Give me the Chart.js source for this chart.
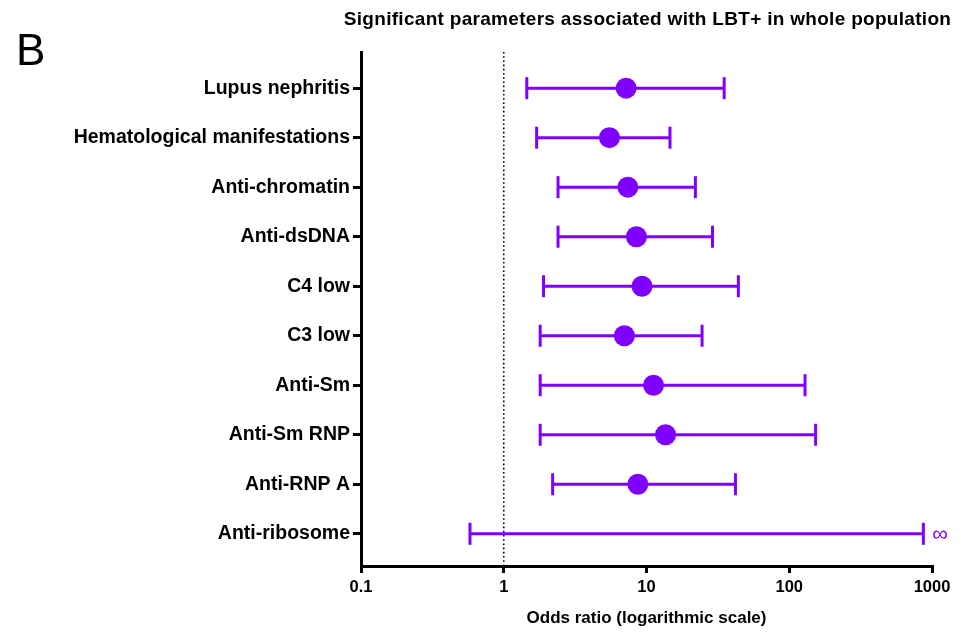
<!DOCTYPE html>
<html>
<head>
<meta charset="utf-8">
<script src="https://cdn.jsdelivr.net/npm/chart.js@4.4.1/dist/chart.umd.min.js"></script>
<style>
  html, body { margin: 0; padding: 0; background: #fff; }
  #wrap { width: 961px; height: 633px; }
</style>
</head>
<body>
<div id="wrap"><canvas id="forestChart" width="961" height="633"></canvas></div>
<script>
// Forest plot data (odds ratio with 95% CI)
const categories = [
    "Lupus nephritis",
    "Hematological manifestations",
    "Anti-chromatin",
    "Anti-dsDNA",
    "C4 low",
    "C3 low",
    "Anti-Sm",
    "Anti-Sm RNP",
    "Anti-RNP A",
    "Anti-ribosome"
];
const oddsRatio = [7.2, 5.5, 7.4, 8.5, 9.3, 7.0, 11.2, 13.6, 8.7, null];
const ciLow = [1.45, 1.7, 2.4, 2.4, 1.9, 1.8, 1.8, 1.8, 2.2, 0.58];
const ciHigh = [35, 14.6, 22, 29, 44, 24.5, 129, 153, 42, 870];
const upperIsInfinite = [false, false, false, false, false, false, false, false, false, true];
const xTickValues = [0.1, 1, 10, 100, 1000];

const PURPLE = "#8000ff";
const FONT = "'Liberation Sans', Arial, sans-serif";

// Whisker segments, broken between rows with an empty point
const whiskerData = [];
categories.forEach((c, i) => {
    whiskerData.push({ x: ciLow[i], y: i });
    whiskerData.push({ x: ciHigh[i], y: i });
    whiskerData.push({ x: null, y: null });
});

const pointData = oddsRatio.map((v, i) => ({ x: v, y: i }));

// Extra drawing: reference line at OR = 1, headings, infinity mark
const extrasPlugin = {
    id: "extras",
    beforeDatasetsDraw(chart) {
        const { ctx, chartArea, scales } = chart;
        const x1 = scales.x.getPixelForValue(1);
        ctx.save();
        ctx.strokeStyle = "#000";
        ctx.lineWidth = 1.6;
        ctx.setLineDash([1.6, 2.6]);
        ctx.beginPath();
        ctx.moveTo(x1, chartArea.top);
        ctx.lineTo(x1, chartArea.bottom);
        ctx.stroke();
        ctx.restore();
    },
    afterDraw(chart) {
        const { ctx, chartArea, scales } = chart;
        ctx.save();
        ctx.fillStyle = "#000";
        ctx.textAlign = "center";
        ctx.textBaseline = "alphabetic";
        ctx.font = "bold 19px " + FONT;
        ctx.letterSpacing = "0.3px";
        ctx.fillText("Significant parameters associated with LBT+ in whole population",
            (chartArea.left + chartArea.right) / 2 + 1, 25);
        ctx.letterSpacing = "0px";

        ctx.textAlign = "left";
        ctx.font = "44px " + FONT;
        ctx.fillText("B", 16, 65);

        // infinity sign after open-ended intervals
        ctx.fillStyle = PURPLE;
        ctx.font = "22px " + FONT;
        ctx.textBaseline = "middle";
        upperIsInfinite.forEach((inf, i) => {
            if (!inf) return;
            const x = scales.x.getPixelForValue(ciHigh[i]);
            const y = scales.y.getPixelForValue(i);
            ctx.fillText("\u221e", x + 9, y + 1);
        });
        ctx.restore();
    }
};

new Chart(document.getElementById("forestChart"), {
    type: "scatter",
    data: {
        datasets: [
            {
                label: "Odds ratio",
                data: pointData,
                pointRadius: 10.5,
                pointHoverRadius: 10.5,
                backgroundColor: PURPLE,
                borderWidth: 0,
                order: 0
            },
            {
                label: "95% CI",
                data: whiskerData,
                showLine: true,
                spanGaps: false,
                borderColor: PURPLE,
                borderWidth: 3,
                pointStyle: "line",
                rotation: 90,
                pointRadius: 11,
                pointHoverRadius: 11,
                pointBorderWidth: 3,
                pointBorderColor: PURPLE,
                order: 1
            }
        ]
    },
    options: {
        responsive: false,
        animation: false,
        layout: { padding: { top: 52, right: 29, left: 0, bottom: 0 } },
        plugins: {
            legend: { display: false },
            tooltip: { enabled: false }
        },
        scales: {
            x: {
                type: "logarithmic",
                min: 0.1,
                max: 1000,
                afterBuildTicks: axis => {
                    axis.ticks = xTickValues.map(v => ({ value: v }));
                },
                afterFit: axis => { axis.height = 67; },
                ticks: {
                    color: "#000",
                    font: { family: FONT, size: 16.5, weight: "bold" },
                    padding: 5,
                    maxRotation: 0,
                    callback: v => String(v)
                },
                grid: {
                    display: true,
                    drawOnChartArea: false,
                    drawTicks: true,
                    tickLength: 7,
                    color: "#000",
                    lineWidth: 3
                },
                border: { display: true, color: "#000", width: 3 },
                title: {
                    display: true,
                    text: "Odds ratio (logarithmic scale)",
                    color: "#000",
                    font: { family: FONT, size: 17, weight: "bold" },
                    padding: { top: 8, bottom: 4 }
                }
            },
            y: {
                type: "linear",
                reverse: true,
                min: -0.73,
                max: 9.65,
                afterBuildTicks: axis => {
                    axis.ticks = categories.map((c, i) => ({ value: i }));
                },
                afterFit: axis => { axis.width = 361; },
                ticks: {
                    color: "#000",
                    font: { family: FONT, size: 19.5, weight: "bold" },
                    padding: 3,
                    callback: v => categories[v]
                },
                grid: {
                    display: true,
                    drawOnChartArea: false,
                    drawTicks: true,
                    tickLength: 8,
                    color: "#000",
                    lineWidth: 3
                },
                border: { display: true, color: "#000", width: 3 }
            }
        }
    },
    plugins: [extrasPlugin]
});
</script>
</body>
</html>
